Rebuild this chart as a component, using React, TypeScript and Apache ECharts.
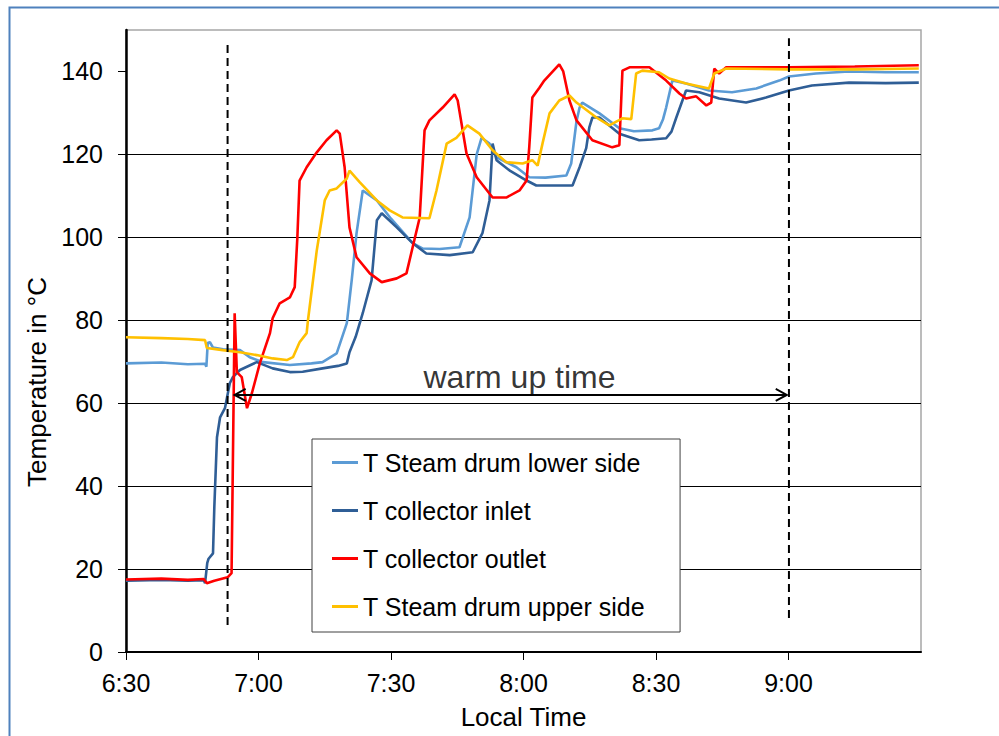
import React, { useEffect, useRef } from "react";
import * as echarts from "echarts";

// x values: minutes after 6:30 local time
const xTickValues = [0, 30, 60, 90, 120, 150];
const xTickLabels = ["6:30", "7:00", "7:30", "8:00", "8:30", "9:00"];
const yTickValues = [0, 20, 40, 60, 80, 100, 120, 140];

const seriesNames = [
  "T Steam drum lower side",
  "T collector inlet",
  "T collector outlet",
  "T Steam drum upper side",
];
const seriesColors = ["#5B9BD5", "#2F5E96", "#FF0000", "#FFC000"];

const lowerSide: [number, number][] = [
  [0, 69.6], [8, 69.8], [14, 69.4], [17.9, 69.5], [18.2, 68.8], [18.5, 74.5], [19.0, 74.7], [19.7, 73.4],
  [22, 73.0], [25.8, 72.8], [28.0, 71.1], [31.0, 69.9], [37.1, 69.2], [42, 69.6], [44.5, 69.9], [47.7, 72.0],
  [50.0, 79.3], [51.1, 89.6], [52.2, 101.0], [53.6, 111.3], [56.8, 108.9], [60, 104.5], [64.9, 98.6],
  [67.2, 97.3], [71, 97.2], [75.5, 97.6], [77.8, 104.8], [79.4, 120], [80.5, 124.0], [82.3, 122.6],
  [83.9, 119.3], [88.4, 116.9], [91.3, 114.5], [95, 114.4], [99.7, 114.9], [100.8, 117.8], [102.0, 128],
  [102.7, 131.3], [103.3, 132.5], [107.2, 129.9], [111.7, 126.3], [115, 125.6], [119.2, 125.8], [120.7, 126.3],
  [121.6, 128.5], [122.3, 131.3], [123.7, 137.8], [126.8, 137.1], [132.0, 135.4], [137.2, 135.0],
  [142.7, 135.9], [147.9, 137.8], [150.1, 138.8], [156.2, 139.5], [163.7, 140.0], [172, 139.8], [179.5, 139.8],
];

const collectorInlet: [number, number][] = [
  [0, 17.2], [8, 17.4], [14, 17.2], [17.6, 17.3], [17.9, 16.6], [18.4, 21.5], [18.7, 22.5], [19.7, 23.8],
  [20.0, 35], [20.6, 51.8], [21.3, 56.6], [22.4, 58.8], [23.5, 64.8], [24.2, 66.3], [25.8, 68.0], [29.6, 69.9],
  [33.2, 68.4], [37.1, 67.5], [40, 67.6], [44.5, 68.4], [48.0, 69.0], [50.0, 69.6], [50.6, 72.3], [52, 76],
  [53.6, 81.7], [55.6, 89.6], [56.8, 104.1], [57.9, 105.8], [61.3, 102.4], [64.9, 98.6], [68.0, 96.1],
  [73.3, 95.7], [78.5, 96.4], [80.7, 101.0], [82.3, 108.9], [83.0, 122.6], [83.9, 118.6], [87, 116],
  [90.7, 113.7], [92.9, 112.5], [101.1, 112.5], [102.7, 116.9], [104.2, 121.5], [104.9, 126.5], [105.6, 128.9],
  [107.2, 128.9], [111.7, 125.0], [116.2, 123.4], [119, 123.6], [122.3, 123.9], [123.5, 125.5], [124.6, 128.9],
  [126.8, 135.4], [129.8, 135.0], [134.3, 133.5], [140.4, 132.5], [144.9, 133.7], [150.1, 135.4],
  [155.3, 136.6], [163.7, 137.3], [172, 137.2], [179.5, 137.3],
];

const collectorOutlet: [number, number][] = [
  [0, 17.5], [8, 17.7], [14, 17.4], [17.6, 17.6], [18.3, 16.6], [20, 17.2], [23.0, 18.0], [23.9, 19.0],
  [24.3, 55], [24.6, 81.7], [25.1, 67.5], [26.2, 66.3], [27.4, 58.8], [28.5, 62.4], [30.3, 69.6], [32.6, 76.9],
  [33.2, 80.5], [34.8, 84.1], [37.1, 85.5], [38.2, 88.0], [38.8, 100], [39.3, 113.7], [40.9, 116.9],
  [43.2, 120.5], [45.4, 123.4], [47.7, 125.8], [48.4, 125.0], [49.5, 116.9], [50.6, 102.4], [52.2, 95.2],
  [55.2, 91.3], [57.9, 89.2], [61.3, 90.1], [63.5, 91.3], [64.9, 97.6], [66.5, 104.8], [67.6, 125.8],
  [68.7, 128.2], [71.7, 131.3], [74.4, 134.5], [75.1, 133.0], [77.1, 120.2], [79.4, 114.5], [83.0, 109.6],
  [86.1, 109.6], [89.1, 111.3], [90.7, 113.7], [91.3, 121.7], [92.0, 133.7], [93.6, 136.1], [94.7, 137.8],
  [98.1, 141.7], [99.0, 140.0], [100.4, 133.0], [102.0, 128.2], [105.6, 123.4], [110.1, 121.7], [111.7, 122.2],
  [112.4, 140.2], [114.0, 141.0], [118.5, 141.0], [122.3, 137.8], [125.3, 134.7], [126.8, 133.5],
  [129.1, 134.0], [131.4, 131.8], [132.5, 132.5], [133.2, 140.7], [134.3, 139.5], [135.9, 141.0],
  [150, 141.0], [165, 141.2], [179.5, 141.5],
];

const upperSide: [number, number][] = [
  [0, 75.9], [8, 75.7], [14, 75.5], [17.9, 75.2], [18.3, 73.3], [21.9, 72.8], [25.8, 72.3], [29.6, 71.6],
  [33.2, 70.8], [36.4, 70.4], [37.8, 71.1], [39.3, 74.7], [40.9, 76.9], [41.2, 80.0], [43.2, 96.9],
  [45.0, 108.9], [46.1, 111.3], [47.7, 111.8], [50.0, 114.2], [50.6, 116.1], [52.9, 113.3], [56.8, 108.9],
  [59.7, 106.5], [62.6, 104.8], [68.7, 104.6], [70.3, 111.3], [72.6, 122.6], [74.8, 124.0], [77.3, 127.0],
  [80.0, 125.0], [83.0, 121.0], [86.1, 118.1], [89.8, 117.8], [92.0, 118.6], [93.2, 117.3], [94.3, 122.6],
  [95.9, 129.9], [98.1, 133.0], [100.4, 134.2], [102.0, 132.5], [106.5, 128.9], [109.4, 127.0],
  [112.4, 128.7], [114.4, 128.5], [115.5, 139.5], [116.9, 140.2], [120.7, 139.8], [123.0, 138.3],
  [126.8, 137.1], [132.0, 135.9], [133.2, 139.5], [135.9, 140.7], [150, 140.5], [165, 140.5], [179.5, 140.7],
];

// annotation markers (time in minutes after 6:30, temperature)
const startMarker: [number, number][] = [[23.0, 6.5], [23.0, 146.5]];
const endMarker: [number, number][] = [[150.1, 8.2], [150.1, 148]];
const warmUpArrow: [number, number][] = [[24.6, 62], [149.6, 62]];
const warmUpLabel: [number, number] = [89.1, 66.3];
const warmUpText = "warm up time";

const FONT = "'Liberation Sans', Arial, sans-serif";

export default function App() {
  const ref = useRef<HTMLDivElement>(null);
  useEffect(() => {
    if (!ref.current) return;
    const chart = echarts.init(ref.current, null, { renderer: "svg" });
    const dataSets = [lowerSide, collectorInlet, collectorOutlet, upperSide];
    const mainSeries = dataSets.map((d, i) => ({
      name: seriesNames[i],
      type: "line",
      data: d,
      showSymbol: false,
      symbol: "none",
      lineStyle: { color: seriesColors[i], width: 2.6 },
      itemStyle: { color: seriesColors[i] },
      z: 3,
    }));
    const option: any = {
      animation: false,
      backgroundColor: "#ffffff",
      textStyle: { fontFamily: FONT, color: "#000" },
      graphic: [
        {
          type: "rect",
          left: 7,
          top: 5,
          shape: { width: 1010, height: 760 },
          style: { fill: "none", stroke: "#4F81BD", lineWidth: 2 },
          silent: true,
          z: 0,
        },
      ],
      grid: {
        left: 126,
        right: 78,
        top: 30,
        bottom: 84,
        show: true,
        borderColor: "#a6a6a6",
        borderWidth: 1.5,
        backgroundColor: "transparent",
      },
      legend: {
        data: seriesNames,
        orient: "vertical",
        left: 312,
        top: 439,
        icon: "rect",
        itemWidth: 26,
        itemHeight: 3,
        itemGap: 23,
        padding: [11, 35, 13, 20],
        backgroundColor: "#ffffff",
        borderColor: "#404040",
        borderWidth: 1,
        textStyle: { fontFamily: FONT, fontSize: 25, color: "#000" },
        z: 10,
      },
      xAxis: {
        type: "value",
        min: 0,
        max: 180,
        interval: 30,
        name: "Local Time",
        nameLocation: "middle",
        nameGap: 52,
        nameTextStyle: { fontFamily: FONT, fontSize: 26, color: "#000" },
        axisLine: { show: true, lineStyle: { color: "#000", width: 2 } },
        axisTick: { show: true, length: 8, lineStyle: { color: "#000" }, customValues: xTickValues },
        axisLabel: {
          customValues: xTickValues,
          fontFamily: FONT,
          fontSize: 25,
          color: "#000",
          margin: 18,
          formatter: (v: number) => {
            const idx = xTickValues.indexOf(v);
            return idx >= 0 ? xTickLabels[idx] : "";
          },
        },
        splitLine: { show: false },
      },
      yAxis: {
        type: "value",
        min: 0,
        max: 150,
        interval: 20,
        name: "Temperature in °C",
        nameLocation: "middle",
        nameRotate: 90,
        nameGap: 63,
        nameTextStyle: { fontFamily: FONT, fontSize: 26, color: "#000", padding: [0, 82, 0, 0] },
        axisLine: { show: true, lineStyle: { color: "#000", width: 2.5 } },
        axisTick: { show: true, length: 8, lineStyle: { color: "#000" }, customValues: yTickValues },
        axisLabel: {
          customValues: yTickValues,
          fontFamily: FONT,
          fontSize: 25,
          color: "#000",
          margin: 23,
        },
        splitLine: {
          show: true,
          showMinLine: false,
          showMaxLine: false,
          lineStyle: { color: "#000", width: 1 },
        },
      },
      series: [
        ...mainSeries,
        {
          name: "start",
          type: "line",
          data: startMarker,
          symbol: "none",
          lineStyle: { color: "#000", width: 2, type: [8, 5] },
          z: 4,
          silent: true,
        },
        {
          name: "end",
          type: "line",
          data: endMarker,
          symbol: "none",
          lineStyle: { color: "#000", width: 2, type: [8, 5] },
          z: 4,
          silent: true,
        },
        {
          name: "arrow",
          type: "line",
          data: [
            {
              value: warmUpArrow[0],
              symbol: "path://M11,0 L0,6 L11,12",
              symbolOffset: [5.5, 0],
            },
            {
              value: warmUpArrow[1],
              symbol: "path://M0,0 L11,6 L0,12",
              symbolOffset: [-5.5, 0],
            },
          ],
          showSymbol: true,
          symbolSize: [11, 12],
          itemStyle: { color: "none", borderColor: "#000", borderWidth: 2 },
          lineStyle: { color: "#000", width: 2 },
          z: 5,
          silent: true,
        },
        {
          name: "label",
          type: "scatter",
          data: [warmUpLabel],
          symbolSize: 0,
          label: {
            show: true,
            position: "inside",
            formatter: warmUpText,
            fontFamily: FONT,
            fontSize: 32,
            color: "#000",
          },
          z: 5,
          silent: true,
        },
      ],
    };
    chart.setOption(option);
    return () => chart.dispose();
  }, []);
  return (
    <div
      ref={ref}
      style={{ position: "absolute", left: 0, top: 0, width: 999, height: 736 }}
    />
  );
}
